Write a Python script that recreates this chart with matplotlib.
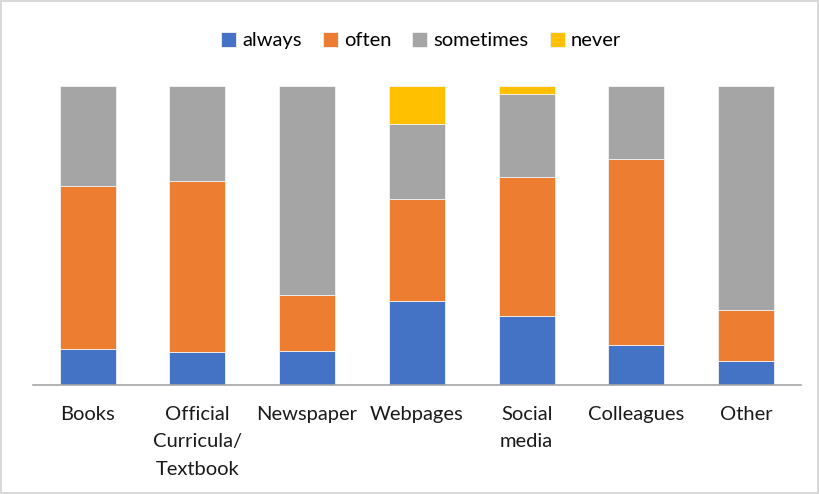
import numpy as np
import matplotlib.pyplot as plt

plt.rcParams['font.family'] = ['Lato', 'DejaVu Sans']

categories = ["Books", "Official\nCurricula/\nTextbook", "Newspaper", "Webpages",
              "Social\nmedia", "Colleagues", "Other"]
always = [11.9, 11.1, 11.5, 28.0, 23.2, 13.3, 8.1]
often = [54.6, 57.0, 18.5, 34.3, 46.4, 62.2, 16.9]
sometimes = [33.5, 31.9, 70.0, 25.1, 27.8, 24.5, 75.0]
never = [0.0, 0.0, 0.0, 12.6, 2.6, 0.0, 0.0]

series = ["always", "often", "sometimes", "never"]
colors = ["#4472C4", "#ED7D31", "#A5A5A5", "#FFC000"]

fig = plt.figure(figsize=(8.19, 4.94), dpi=100)
fig.patch.set_edgecolor('#d9d9d9')
fig.patch.set_linewidth(1.5)
ax = fig.add_axes([0.040, 0.2206, 0.938, 0.6053])

x = np.arange(len(categories))
bottom = np.zeros(len(categories))
for name, vals, c in zip(series, [always, often, sometimes, never], colors):
    vals = np.array(vals)
    ax.bar(x, vals, 0.51, bottom=bottom, color=c, label=name,
           edgecolor='#f2f2f2', linewidth=0.6)
    bottom += vals

ax.set_xlim(-0.5, len(categories) - 0.5)
ax.set_ylim(0, 100)
ax.set_yticks([])
ax.set_xticks(x, labels=categories, fontsize=14.5, color='#1a1a1a')
for lbl in ax.get_xticklabels():
    lbl.set_linespacing(1.75)
ax.tick_params(axis='x', length=0, pad=15)
for s in ['top', 'right', 'left']:
    ax.spines[s].set_visible(False)
ax.spines['bottom'].set_color('#a6a6a6')
ax.spines['bottom'].set_linewidth(1.2)

fig.legend(loc='center', bbox_to_anchor=(0.514, 0.918), ncol=4, frameon=False,
           fontsize=14.5, handlelength=0.75, handleheight=0.75, handletextpad=0.3,
           columnspacing=1.05)

plt.savefig('out.png', dpi=100)
